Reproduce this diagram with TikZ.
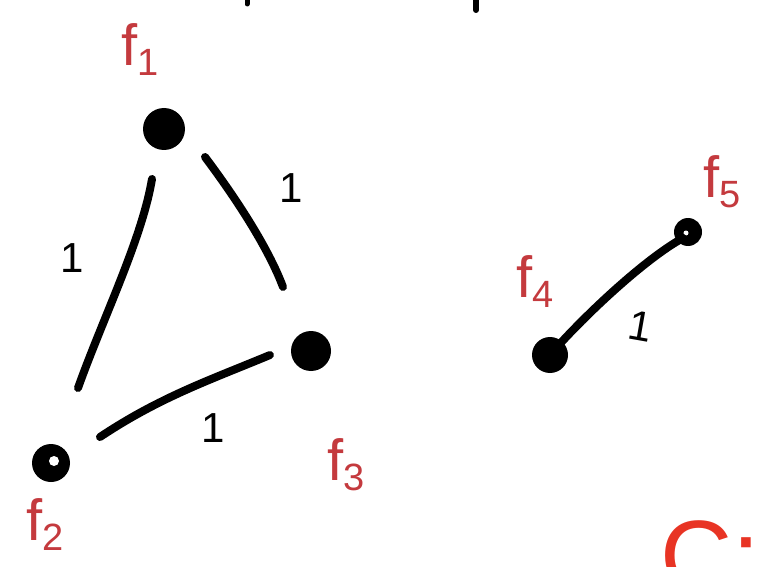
\documentclass[tikz,border=0pt]{standalone}
\usepackage{fontspec}
\setmainfont{Liberation Sans}
\usetikzlibrary{calc}
\definecolor{lblred}{RGB}{196,58,62}
\definecolor{brightred}{RGB}{232,52,36}
\tikzset{
  vert/.style={circle,fill=black,inner sep=0pt,minimum size=#1},
  edge/.style={line width=8pt,line cap=round,line join=round},
  wlab/.style={font=\fontsize{42}{42}\selectfont,inner sep=0pt},
  flab/.style={text=lblred,inner sep=0pt,font=\fontsize{58}{58}\selectfont},
}
\newcommand{\flabel}[1]{f\raisebox{-10pt}{\fontsize{38}{38}\selectfont #1}}
\begin{document}
\begin{tikzpicture}[x=1pt,y=-1pt]
\useasboundingbox (0,0) rectangle (761,567);
% vertices
\node[vert=42pt] (v1) at (164,129) {};
\node[vert=38pt] (v2) at (51,463) {};
\fill[white] (v2.center) ++(3,-2) circle (5);
\node[vert=40pt] (v3) at (311,351) {};
\node[vert=36pt] (v4) at (550,355) {};
\node[vert=28pt] (v5) at (688,232) {};
\fill[white] (v5.center) ++(-2,1) circle (2.5);
% edges
\draw[edge] ($(v1)+(-12,50)$) .. controls +(-10,60) and +(25,-70) .. ($(v2)+(27,-75)$);
\draw[edge] ($(v1)+(41,28)$) .. controls +(30,40) and +(-15,-40) .. ($(v1)+(119,158)$);
\draw[edge] ($(v2)+(49,-26)$) .. controls +(60,-40) and +(-60,25) .. ($(v3)+(-41,4)$);
\draw[edge] (v4.center) .. controls +(30,-35) and +(-40,22) .. ($(v5)+(-5,6)$);
% weights
\node[wlab] (w12) at (72,258) {1};
\node[wlab] (w13) at (291,188) {1};
\node[wlab] (w23) at (213,428) {1};
\node[wlab,rotate=-10] (w45) at (641,326) {1};
% labels
\node[flab] (l1) at (140,50) {\flabel{1}};
\node[flab] (l2) at (45,525) {\flabel{2}};
\node[flab] (l3) at (346,465) {\flabel{3}};
\node[flab] (l4) at (535,282) {\flabel{4}};
\node[flab] (l5) at (722,182) {\flabel{5}};
% partial marks at edges
\draw[line width=5pt,line cap=round] (247,-2) -- (247,4);
\draw[line width=6pt,line cap=round] (476,-2) -- (476,10);
\begin{scope}
\clip (0,0) rectangle (761,567);
\node[text=brightred,inner sep=0pt,anchor=base west,font=\fontsize{100}{100}\selectfont] (cmark) at (660,590) {C:=};
\end{scope}
\end{tikzpicture}
\end{document}
